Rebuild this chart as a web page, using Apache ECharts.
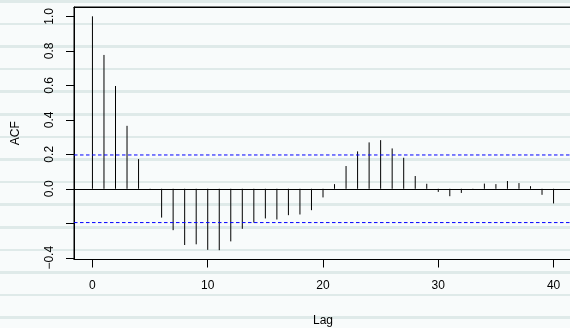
<!DOCTYPE html>
<html>
<head>
<meta charset="utf-8">
<script src="https://cdn.jsdelivr.net/npm/echarts@6/dist/echarts.min.js"></script>
<style>
html,body{margin:0;padding:0;}
body{
  width:570px;height:328px;overflow:hidden;
  background: repeating-linear-gradient(to bottom,
    #dfeae9 0px, #dfeae9 2.6px,
    #f8fbfb 2.6px, #f8fbfb 22.6px);
}
#chart{width:570px;height:328px;}
</style>
</head>
<body>
<div id="chart"></div>
<script>
// ---- data ----
const lags = [0,1,2,3,4,5,6,7,8,9,10,11,12,13,14,15,16,17,18,19,20,21,22,23,24,25,26,27,28,29,30,31,32,33,34,35,36,37,38,39,40];
const acfValues = [1.0, 0.776, 0.596, 0.365, 0.172, -0.005, -0.167, -0.24, -0.326, -0.322,
  -0.354, -0.356, -0.305, -0.232, -0.196, -0.172, -0.178, -0.153, -0.149, -0.124,
  -0.05, 0.027, 0.132, 0.217, 0.269, 0.282, 0.234, 0.18, 0.074, 0.029,
  -0.018, -0.043, -0.024, -0.007, 0.03, 0.027, 0.045, 0.033, 0.015, -0.035, -0.085];
const ciBounds = [0.196, -0.196];
const yTickValues = [-0.4, -0.2, 0, 0.2, 0.4, 0.6, 0.8, 1.0];
const yLabelValues = [-0.4, 0, 0.2, 0.4, 0.6, 0.8, 1.0];
const xTickValues = [0, 10, 20, 30, 40];

const chart = echarts.init(document.getElementById('chart'), null, {renderer:'canvas'});
const font = '"Liberation Sans", Arial, Helvetica, sans-serif';
const axisLineStyle = {color: '#000', width: 1};
const option = {
  backgroundColor: 'transparent',
  animation: false,
  grid: {left: 74, top: 7, width: 498, height: 252.5, outerBoundsMode: 'none', containLabel: false,
    show: true, borderColor: '#000', borderWidth: 1, backgroundColor: 'transparent'},
  xAxis: [{
    type: 'value', min: -1.6, max: 41.6, position: 'bottom',
    name: 'Lag', nameLocation: 'middle', nameGap: 55,
    nameTextStyle: {fontFamily: font, fontSize: 12, color: '#000'},
    splitLine: {show: false},
    axisLine: {show: true, onZero: false, lineStyle: axisLineStyle},
    axisTick: {show: true, customValues: xTickValues, length: 8, lineStyle: axisLineStyle},
    axisLabel: {customValues: xTickValues, margin: 20, fontFamily: font, fontSize: 12, color: '#000'}
  }, {
    type: 'value', min: -1.6, max: 41.6, position: 'top',
    splitLine: {show: false},
    axisLine: {show: true, onZero: false, lineStyle: axisLineStyle},
    axisTick: {show: false}, axisLabel: {show: false}
  }],
  yAxis: {
    type: 'value', min: -0.41, max: 1.054,
    name: 'ACF', nameLocation: 'middle', nameGap: 52, nameRotate: 90,
    nameTextStyle: {fontFamily: font, fontSize: 12, color: '#000'},
    splitLine: {show: false},
    axisLine: {show: true, onZero: false, lineStyle: axisLineStyle},
    axisTick: {show: true, customValues: yTickValues, length: 8, lineStyle: axisLineStyle},
    axisLabel: {customValues: yLabelValues, rotate: 90, margin: 18, fontFamily: font, fontSize: 12, color: '#000',
      formatter: v => (v < 0 ? '\u2212' : '') + Math.abs(v).toFixed(1)}
  },
  series: [{
    type: 'custom',
    xAxisIndex: 0, yAxisIndex: 0,
    data: lags.map((l, i) => [l, acfValues[i]]),
    renderItem: function (params, api) {
      const p0 = api.coord([api.value(0), 0]);
      const p1 = api.coord([api.value(0), api.value(1)]);
      return {type: 'line', shape: {x1: p0[0], y1: p0[1], x2: p1[0], y2: p1[1]},
        style: {stroke: '#000', lineWidth: 1}};
    },
    markLine: {
      silent: true, symbol: ['none', 'none'], label: {show: false},
      lineStyle: {color: '#000', type: 'solid', width: 1},
      data: [{yAxis: 0}]
    }
  }, {
    type: 'custom',
    xAxisIndex: 0, yAxisIndex: 0,
    data: ciBounds.map(v => [0, v]),
    renderItem: function (params, api) {
      const cs = params.coordSys;
      const y = api.coord([0, api.value(1)])[1];
      return {type: 'line', shape: {x1: cs.x, y1: y, x2: cs.x + cs.width, y2: y},
        style: {stroke: '#0000ff', lineWidth: 1, lineDash: [3.5, 2.5]}};
    }
  }]
};
chart.setOption(option);
</script>
</body>
</html>
